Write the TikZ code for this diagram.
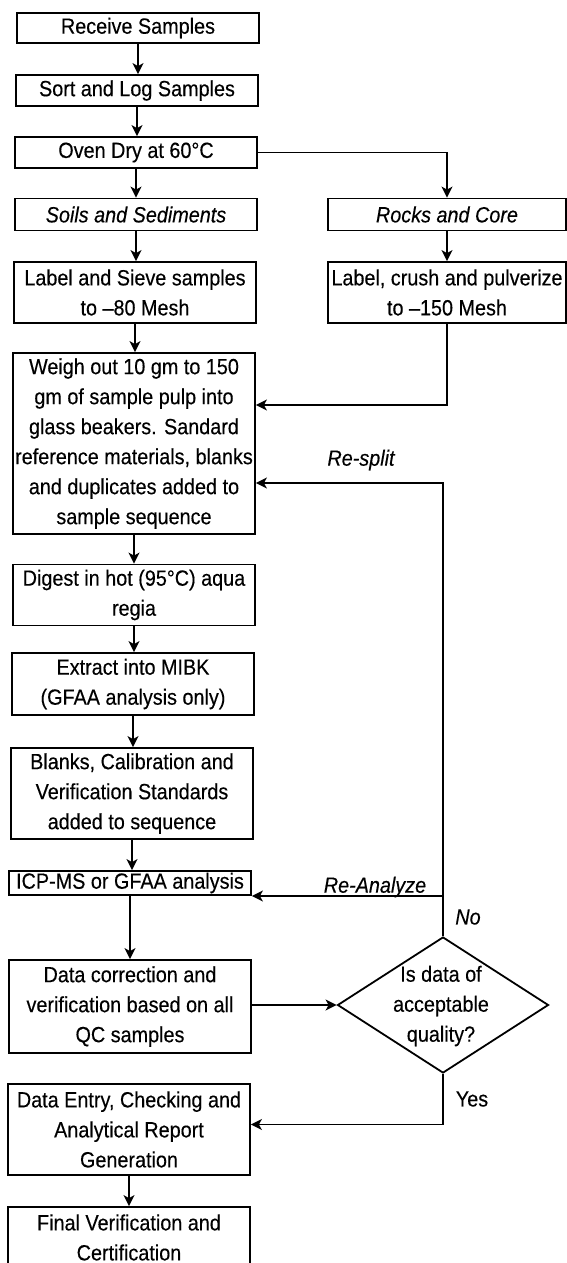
\documentclass[tikz,border=0pt]{standalone}
\usepackage{fontspec}
\setmainfont{Liberation Sans}[FakeStretch=0.9,FakeBold=0.3]
\usetikzlibrary{arrows.meta,shapes.geometric}
\begin{document}
\begin{tikzpicture}[x=1pt,y=-1pt,
  txt/.style={font=\fontsize{22}{30}\selectfont},
  box/.style={txt, draw, line width=1.8pt, minimum width=242pt, inner sep=0pt, align=center},
  arr/.style={line width=1.8pt, -{Stealth[length=11pt,width=11pt,inset=3pt]}},
  lbl/.style={txt, inner sep=0pt}]
\useasboundingbox (0,0) rectangle (567,1263);
\clip (0,0) rectangle (567,1263);

% main column
\node[box, minimum height=30pt] (recv)   at (138,28)    {Receive Samples};
\node[box, minimum height=31pt] (sort)   at (137,90.5)  {Sort and Log Samples};
\node[box, minimum height=31pt] (oven)   at (136,152.5) {Oven Dry at 60°C};
\node[box, minimum height=32pt] (soils)  at (136,214.5) {\itshape Soils and Sediments};
\node[box, minimum height=32pt, minimum width=238pt] (rocks) at (447,214.5) {\itshape Rocks and Core};
\node[box, minimum height=61pt] (sieve)  at (135,292.5) {Label and Sieve samples\\to –80 Mesh};
\node[box, minimum height=61pt, minimum width=238pt] (crush) at (447,292.5) {Label, crush and pulverize\\to –150 Mesh};
\node[box, minimum height=181pt] (weigh) at (134,443.5) {Weigh out 10 gm to 150\\gm of sample pulp into\\glass beakers. Sandard\\reference materials, blanks\\and duplicates added to\\sample sequence};
\node[box, minimum height=61pt] (digest) at (134,595)   {Digest in hot (95°C) aqua\\regia};
\node[box, minimum height=62pt] (mibk)   at (133,684)   {Extract into MIBK\\(GFAA analysis only)};
\node[box, minimum height=91pt] (stds)   at (132,793.5) {Blanks, Calibration and\\Verification Standards\\added to sequence};
\node[box, minimum height=24pt] (icp)    at (130,883)   {ICP-MS or GFAA analysis};
\node[box, minimum height=93pt] (corr)   at (130,1006.5){Data correction and\\verification based on all\\QC samples};
\node[box, minimum height=91pt] (entry)  at (129,1129.5){Data Entry, Checking and\\Analytical Report\\Generation};
\node[box, minimum height=61pt] (final)  at (129,1237.5){Final Verification and\\Certification};

% decision
\node[draw, diamond, line width=1.8pt, minimum width=211pt, minimum height=136pt, inner sep=0pt] (q) at (443,1005) {};
\node[lbl, align=center] (qtext) at (441,1006) {Is data of\\acceptable\\quality?};

% straight flow
\draw[arr] (recv.south)  -- (recv.south |- sort.north);
\draw[arr] (sort.south)  -- (sort.south |- oven.north);
\draw[arr] (oven.south)  -- (oven.south |- soils.north);
\draw[arr] (oven.east)   -| (rocks.north);
\draw[arr] (soils.south) -- (soils.south |- sieve.north);
\draw[arr] (rocks.south) -- (crush.north);
\draw[arr] (sieve.south) -- (sieve.south |- weigh.north);
\draw[arr] (crush.south) |- ([yshift=38.5pt]weigh.east);
\draw[arr] (weigh.south) -- (weigh.south |- digest.north);
\draw[arr] (digest.south) -- (digest.south |- mibk.north);
\draw[arr] (mibk.south)  -- (mibk.south |- stds.north);
\draw[arr] (stds.south)  -- (stds.south |- icp.north);
\draw[arr] (icp.south)   -- (icp.south |- corr.north);
\draw[arr] (corr.east |- q.west) -- (q.west);
\draw[arr] (entry.south) -- (entry.south |- final.north);

% loops back from the decision
\coordinate (icpIn) at ([yshift=-13pt]icp.east);
\draw[arr] (q.north) |- ([yshift=-39.5pt]weigh.east);
\draw[arr] (q.north |- icpIn) -- (icpIn);
\draw[arr] (q.south) |- ([yshift=5pt]entry.east);

% branch labels
\node[lbl, font=\fontsize{22}{30}\selectfont\itshape] (lsplit) at (361,460) {Re-split};
\node[lbl, font=\fontsize{22}{30}\selectfont\itshape] (lanal)  at (375,887) {Re-Analyze};
\node[lbl, font=\fontsize{22}{30}\selectfont\itshape] (lno)    at (468,917) {No};
\node[lbl] (lyes) at (472,1099) {Yes};
\end{tikzpicture}
\end{document}
